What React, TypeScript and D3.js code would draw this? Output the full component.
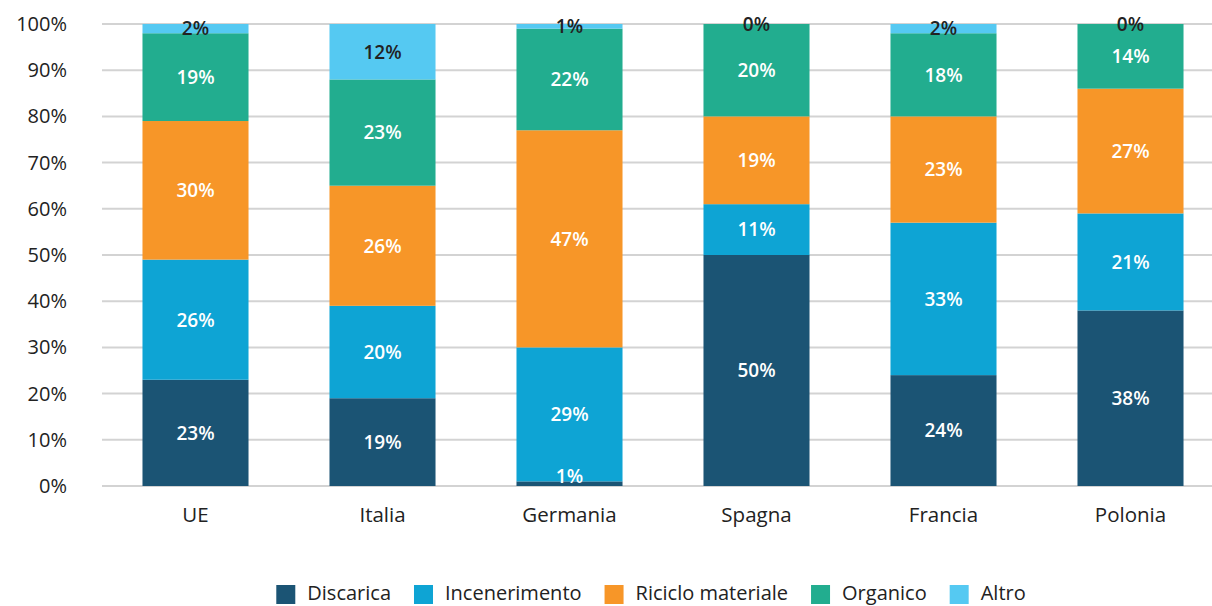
import React, { useEffect, useRef } from "react";
import * as d3 from "d3";

const categories = ["UE", "Italia", "Germania", "Spagna", "Francia", "Polonia"];
const seriesNames = ["Discarica", "Incenerimento", "Riciclo materiale", "Organico", "Altro"];
const discarica = [23, 19, 1, 50, 24, 38];
const incenerimento = [26, 20, 29, 11, 33, 21];
const riciclo = [30, 26, 47, 19, 23, 27];
const organico = [19, 23, 22, 20, 18, 14];
const altro = [2, 12, 1, 0, 2, 0];
const yTicks = [0, 10, 20, 30, 40, 50, 60, 70, 80, 90, 100];

const colors = ["#1b5474", "#0ea4d4", "#f79628", "#22ad8f", "#55c9f2"];
const labelColors = ["#ffffff", "#ffffff", "#ffffff", "#ffffff", "#222222"];

const W = 1212;
const H = 606;
const FONT = "'Open Sans', Lato, sans-serif";

export default function App() {
  const ref = useRef<SVGSVGElement>(null);

  useEffect(() => {
    const svg = d3.select(ref.current);
    svg.selectAll("*").remove();

    const seriesValues = [discarica, incenerimento, riciclo, organico, altro];
    const rows = categories.map((c, i) => {
      const r: any = { cat: c };
      seriesNames.forEach((s, k) => (r[s] = seriesValues[k][i]));
      return r;
    });
    const stacked = d3.stack<any>().keys(seriesNames)(rows);

    const x = d3
      .scaleBand()
      .domain(categories)
      .range([102, 1224])
      .paddingInner(0.433)
      .paddingOuter(0.2165);
    const y = d3.scaleLinear().domain([0, 100]).range([486, 24]);

    // gridlines
    svg
      .append("g")
      .selectAll("line")
      .data(yTicks)
      .join("line")
      .attr("x1", 102)
      .attr("x2", W)
      .attr("y1", (d) => y(d))
      .attr("y2", (d) => y(d))
      .attr("stroke", "#d3d3d3")
      .attr("stroke-width", 2);

    // y tick labels
    svg
      .append("g")
      .selectAll("text")
      .data(yTicks)
      .join("text")
      .attr("x", 67)
      .attr("y", (d) => y(d))
      .attr("dy", "0.35em")
      .attr("text-anchor", "end")
      .attr("font-family", FONT)
      .attr("font-size", 20)
      .attr("fill", "#222")
      .text((d) => d + "%");

    // bars
    stacked.forEach((layer, k) => {
      svg
        .append("g")
        .selectAll("rect")
        .data(layer)
        .join("rect")
        .attr("x", (d: any) => x(d.data.cat)!)
        .attr("width", x.bandwidth())
        .attr("y", (d) => y(d[1]))
        .attr("height", (d) => y(d[0]) - y(d[1]))
        .attr("fill", colors[k]);
    });

    // labels
    stacked.forEach((layer, k) => {
      svg
        .append("g")
        .selectAll("text")
        .data(layer)
        .join("text")
        .attr("x", (d: any) => x(d.data.cat)! + x.bandwidth() / 2)
        .attr("y", (d) => Math.min(y((d[0] + d[1]) / 2), y(0) - 10))
        .attr("dy", "0.36em")
        .attr("text-anchor", "middle")
        .attr("font-family", FONT)
        .attr("font-weight", 600)
        .attr("font-size", 19)
        .attr("fill", labelColors[k])
        .text((d) => Math.round(d[1] - d[0]) + "%");
    });

    // x labels
    svg
      .append("g")
      .selectAll("text")
      .data(categories)
      .join("text")
      .attr("x", (d) => x(d)! + x.bandwidth() / 2)
      .attr("y", 515)
      .attr("dy", "0.35em")
      .attr("text-anchor", "middle")
      .attr("font-family", FONT)
      .attr("font-size", 20.5)
      .attr("fill", "#222")
      .text((d) => d);

    // legend
    const lg = svg.append("g");
    const sq = 19;
    let cx = 0;
    seriesNames.forEach((name, k) => {
      const g = lg.append("g").attr("transform", `translate(${cx},0)`);
      g.append("rect")
        .attr("x", 0)
        .attr("y", 585)
        .attr("width", sq)
        .attr("height", sq)
        .attr("fill", colors[k]);
      const t = g
        .append("text")
        .attr("x", sq + 12)
        .attr("y", 600)
        .attr("font-family", FONT)
        .attr("font-size", 20)
        .attr("fill", "#222")
        .text(name);
      const tw = (t.node() as SVGTextElement).getComputedTextLength();
      cx += sq + 12 + tw + 23;
    });
    const total = cx - 23;
    lg.attr("transform", `translate(${651 - total / 2},0)`);
  }, []);

  return (
    <svg
      ref={ref}
      width={W}
      height={H}
      style={{ position: "absolute", left: 0, top: 0, background: "#fff" }}
    />
  );
}
